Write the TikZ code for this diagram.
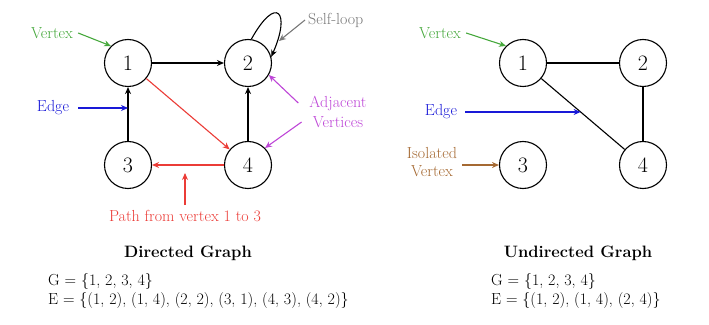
\documentclass[tikz,border=0pt]{standalone}
\usetikzlibrary{arrows.meta,positioning,calc}
\definecolor{vgreen}{RGB}{70,168,60}
\definecolor{eblue}{RGB}{25,25,215}
\definecolor{pred}{RGB}{235,60,55}
\definecolor{adjviolet}{RGB}{190,70,215}
\definecolor{loopgray}{RGB}{120,120,120}
\definecolor{isobrown}{RGB}{165,105,50}
\begin{document}
\begin{tikzpicture}[x=1pt,y=1pt,
  vert/.style={circle,draw,line width=1.1pt,minimum size=47pt,inner sep=0pt,font=\fontsize{22}{24}\selectfont},
  arc/.style={line width=1.1pt,-{Stealth[length=7pt,width=6pt]}},
  link/.style={line width=1.1pt},
  note/.style={font=\fontsize{16}{18}\selectfont,align=center,inner sep=5pt},
  sets/.style={font=\fontsize{16}{18.5}\selectfont,align=left,anchor=west,inner sep=0pt},
  title/.style={font=\bfseries\fontsize{16.5}{18}\selectfont}]
\useasboundingbox (0,0) rectangle (709,324);
% directed graph
\node[vert] (d1) at (128,261) {1};
\node[vert] (d2) at (248,261) {2};
\node[vert] (d3) at (128,159) {3};
\node[vert] (d4) at (248,159) {4};
\draw[arc] (d1) -- (d2);
\draw[arc] (d3) -- (d1);
\draw[arc] (d4) -- (d2);
\draw[arc,pred] (d1) -- (d4);
\draw[arc,pred] (d4) -- (d3);
\draw[arc] (d2.82) .. controls +(25,45) and +(20,45) .. (d2.15);
\node[note,vgreen] (dvtx) at (52,291) {Vertex};
\draw[arc,vgreen] (dvtx.east) -- (d1.north west);
\node[note,loopgray,anchor=west,inner sep=3pt] (loop) at (305,304) {Self-loop};
\coordinate (looptip) at (279,283);
\draw[arc,loopgray] (loop.west) -- (looptip);
\coordinate (dhit) at ($(d3)!0.55!(d1)$);
\node[note,eblue] (dedge) at (53,216) {Edge};
\draw[arc,eblue] ([xshift=4pt]dedge.east) -- (dedge.east -| dhit);
\node[note,adjviolet] (adj1) at (338,221) {Adjacent};
\node[note,adjviolet] (adj2) at (338,202) {Vertices};
\draw[arc,adjviolet] ([xshift=-6pt]adj1.west) -- (d2.-30);
\draw[arc,adjviolet] ([xshift=-6pt]adj2.west) -- (d4.45);
\node[note,pred] (path) at (185,108) {Path from vertex 1 to 3};
\coordinate (pathtip) at (185,151);
\draw[arc,pred] (path.north) -- (pathtip);
\node[title] (dtitle) at (188,71) {Directed Graph};
\node[sets] (dsets) at (48,33) {G = \{1, 2, 3, 4\}\\E = \{(1, 2), (1, 4), (2, 2), (3, 1), (4, 3), (4, 2)\}};
% undirected graph
\node[vert] (u1) at (523,261) {1};
\node[vert] (u2) at (643,261) {2};
\node[vert] (u3) at (523,159) {3};
\node[vert] (u4) at (643,159) {4};
\draw[link] (u1) -- (u2);
\draw[link] (u1) -- (u4);
\draw[link] (u2) -- (u4);
\node[note,vgreen] (uvtx) at (440,291) {Vertex};
\draw[arc,vgreen] (uvtx.east) -- (u1.north west);
\coordinate (uhit) at ($(u1)!0.48!(u4)$);
\node[note,eblue] (uedge) at (441,212) {Edge};
\draw[arc,eblue] ([xshift=3pt]uedge.east) -- (uedge.east -| uhit);
\node[note,isobrown] (iso) at (432,162) {Isolated\\Vertex};
\draw[arc,isobrown] (iso.east |- u3.west) -- (u3.west);
\node[title] (utitle) at (578,71) {Undirected Graph};
\node[sets] (usets) at (491,33) {G = \{1, 2, 3, 4\}\\E = \{(1, 2), (1, 4), (2, 4)\}};
\end{tikzpicture}
\end{document}
